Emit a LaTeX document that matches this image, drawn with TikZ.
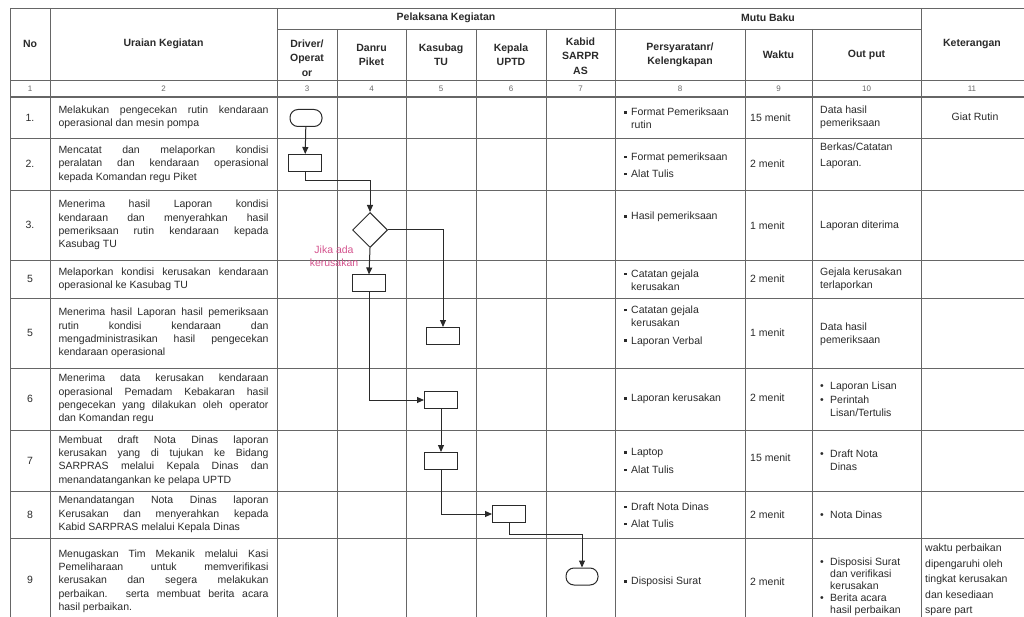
\documentclass[tikz,border=0pt]{standalone}
\usepackage{fontspec}
\setmainfont{Liberation Sans}
\usetikzlibrary{shapes.geometric,arrows.meta}

\definecolor{ink}{HTML}{2A2A2A}
\definecolor{rulegray}{HTML}{666666}
\definecolor{notepink}{HTML}{D4548E}

\newcommand{\sqb}{\makebox[7pt][l]{\raisebox{2pt}{\rule{2.6pt}{2.6pt}}}}
\newcommand{\rb}{\makebox[10pt][l]{\textbullet}}
\newcommand{\ind}[1]{\hspace*{#1pt}}

\begin{document}
\begin{tikzpicture}[x=1pt,y=-1pt,>={Triangle[length=7pt,width=6pt]},
  every node/.style={text=ink,inner sep=0pt},
  font=\fontsize{10.5}{13.3}\selectfont]
  \tikzstyle{tabline}=[draw=rulegray,line width=0.7pt]
  \tikzstyle{hdtext}=[font=\bfseries\fontsize{10.5}{14.5}\selectfont,align=center]
  \tikzstyle{colnum}=[font=\fontsize{8}{9}\selectfont,text=black!60]
  \tikzstyle{uraian}=[text width=210pt,align=justify]
  \tikzstyle{cell}=[anchor=west,align=left]
  \tikzstyle{procbox}=[draw=ink,line width=1pt,minimum width=33pt,minimum height=17pt]
  \tikzstyle{termbox}=[procbox,minimum width=32pt,rounded corners=8pt]
  \tikzstyle{decbox}=[diamond,draw=ink,line width=1pt,minimum width=35pt,minimum height=35pt]
  \tikzstyle{flow}=[->,draw=ink,line width=1pt]

  \useasboundingbox (0,0) rectangle (1024,617);

  % table grid
  \draw[tabline] (10,8) -- (1024,8);
  \draw[tabline] (277,29) -- (921,29);
  \draw[tabline] (10,80) -- (1024,80);
  \draw[tabline,line width=1.4pt] (10,97) -- (1024,97);
  \foreach \y in {138,190,260,298,368,430,491,538}
    \draw[tabline] (10,\y) -- (1024,\y);
  \foreach \x in {10,50,277,615,921}
    \draw[tabline] (\x,8) -- (\x,617);
  \foreach \x in {337,406,476,546,745,812}
    \draw[tabline] (\x,29) -- (\x,617);

  % header
  \node[hdtext] (hNo) at (30,44) {No};
  \node[hdtext] (hUr) at (163.5,44) {Uraian Kegiatan};
  \node[hdtext] (hPel) at (446,18) {Pelaksana Kegiatan};
  \node[hdtext] (hMutu) at (768,18) {Mutu Baku};
  \node[hdtext] (hKet) at (972,44) {Keterangan};
  \node[hdtext] (hDrv) at (307,58) {Driver/\\Operat\\or};
  \node[hdtext] (hDan) at (371.5,55) {Danru\\Piket};
  \node[hdtext] (hKsb) at (441,55) {Kasubag\\TU};
  \node[hdtext] (hKep) at (511,55) {Kepala\\UPTD};
  \node[hdtext] (hKab) at (580.5,56) {Kabid\\SARPR\\AS};
  \node[hdtext] (hPer) at (680,55) {Persyaratanr/\\Kelengkapan};
  \node[hdtext] (hWak) at (778.5,55) {Waktu};
  \node[hdtext] (hOut) at (866.5,55) {Out put};

  \node[colnum] (n1) at (30,88.5) {1};
  \node[colnum] (n2) at (163.5,88.5) {2};
  \node[colnum] (n3) at (307,88.5) {3};
  \node[colnum] (n4) at (371.5,88.5) {4};
  \node[colnum] (n5) at (441,88.5) {5};
  \node[colnum] (n6) at (511,88.5) {6};
  \node[colnum] (n7) at (580.5,88.5) {7};
  \node[colnum] (n8) at (680,88.5) {8};
  \node[colnum] (n9) at (778.5,88.5) {9};
  \node[colnum] (n10) at (866.5,88.5) {10};
  \node[colnum] (n11) at (972,88.5) {11};

  % no
  \node (No1) at (30,117.5) {1.};
  \node (No2) at (30,164) {2.};
  \node (No3) at (30,225) {3.};
  \node (No4) at (30,279) {5};
  \node (No5) at (30,333) {5};
  \node (No6) at (30,399) {6};
  \node (No7) at (30,460.5) {7};
  \node (No8) at (30,514.5) {8};
  \node (No9) at (30,580) {9};

  % uraian kegiatan
  \node[uraian] (U1) at (163.5,117.5) {Melakukan pengecekan rutin kendaraan\linebreak operasional dan mesin pompa};
  \node[uraian] (U2) at (163.5,164) {Mencatat dan melaporkan kondisi\linebreak peralatan dan kendaraan operasional\linebreak kepada Komandan regu Piket};
  \node[uraian] (U3) at (163.5,225) {Menerima hasil Laporan kondisi\linebreak kendaraan dan menyerahkan hasil\linebreak pemeriksaan rutin kendaraan kepada\linebreak Kasubag TU};
  \node[uraian] (U4) at (163.5,279) {Melaporkan kondisi kerusakan kendaraan\linebreak operasional ke Kasubag TU};
  \node[uraian] (U5) at (163.5,333) {Menerima hasil Laporan hasil pemeriksaan\linebreak rutin kondisi kendaraan dan\linebreak mengadministrasikan hasil pengecekan\linebreak kendaraan operasional};
  \node[uraian] (U6) at (163.5,399) {Menerima data kerusakan kendaraan\linebreak operasional Pemadam Kebakaran hasil\linebreak pengecekan yang dilakukan oleh operator\linebreak dan Komandan regu};
  \node[uraian] (U7) at (163.5,460.5) {Membuat draft Nota Dinas laporan\linebreak kerusakan yang di tujukan ke Bidang\linebreak SARPRAS melalui Kepala Dinas dan\linebreak menandatangankan ke pelapa UPTD};
  \node[uraian] (U8) at (163.5,514.5) {Menandatangan Nota Dinas laporan\linebreak Kerusakan dan menyerahkan kepada\linebreak Kabid SARPRAS melalui Kepala Dinas};
  \node[uraian] (U9) at (163.5,581) {Menugaskan Tim Mekanik melalui Kasi\linebreak Pemeliharaan untuk memverifikasi\linebreak kerusakan dan segera melakukan\linebreak perbaikan. serta membuat berita acara\linebreak hasil perbaikan.};

  % flow
  \node[termbox] (T1) at (306,118) {};
  \node[procbox] (B2) at (305,163) {};
  \node[decbox]  (D3) at (370,230) {};
  \node[procbox] (B4) at (369,283.5) {};
  \node[procbox] (B5) at (443,336) {};
  \node[procbox] (B6) at (441,400) {};
  \node[procbox] (B7) at (441,461) {};
  \node[procbox] (B8) at (509,514) {};
  \node[termbox] (T9) at (582,576.5) {};
  \node[font=\fontsize{10.5}{13}\selectfont,text=notepink,align=center] (L3) at (334,256.5) {Jika ada\\kerusakan};

  \draw[flow] (T1) -- (B2);
  \draw[flow] (B2.south) -- ++(0,9) -| (D3.north);
  \draw[flow] (D3.east) -| (B5.north);
  \draw[flow] (D3.south) -- (B4.north);
  \draw[flow] (B4.south) |- (B6.west);
  \draw[flow] (B6.south) -- (B7.north);
  \draw[flow] (B7.south) |- (B8.west);
  \draw[flow] (B8.south) -- ++(0,11) -| (T9.north);

  % persyaratan
  \node[cell] (P1) at (624,118.5) {\sqb Format Pemeriksaan\\\ind{7}rutin};
  \node[cell] (P2) at (624,165) {\sqb Format pemeriksaan\\[4pt]\sqb Alat Tulis};
  \node[cell] (P3) at (624,217) {\sqb Hasil pemeriksaan};
  \node[cell] (P4) at (624,280) {\sqb Catatan gejala\\\ind{7}kerusakan};
  \node[cell] (P5) at (624,326) {\sqb Catatan gejala\\\ind{7}kerusakan\\[4pt]\sqb Laporan Verbal};
  \node[cell] (P6) at (624,399) {\sqb Laporan kerusakan};
  \node[cell] (P7) at (624,461) {\sqb Laptop\\[4pt]\sqb Alat Tulis};
  \node[cell] (P8) at (624,515) {\sqb Draft Nota Dinas\\[4pt]\sqb Alat Tulis};
  \node[cell] (P9) at (624,582) {\sqb Disposisi Surat};

  % waktu
  \node[cell] (W1) at (750,118) {15 menit};
  \node[cell] (W2) at (750,164) {2 menit};
  \node[cell] (W3) at (750,226) {1 menit};
  \node[cell] (W4) at (750,279) {2 menit};
  \node[cell] (W5) at (750,333) {1 menit};
  \node[cell] (W6) at (750,398) {2 menit};
  \node[cell] (W7) at (750,458) {15 menit};
  \node[cell] (W8) at (750,515) {2 menit};
  \node[cell] (W9) at (750,582) {2 menit};

  % out put
  \node[cell] (O1) at (820,117) {Data hasil\\pemeriksaan};
  \node[cell] (O2) at (820,155.5) {Berkas/Catatan\\[3pt]Laporan.};
  \node[cell] (O3) at (820,226) {Laporan diterima};
  \node[cell] (O4) at (820,279) {Gejala kerusakan\\terlaporkan};
  \node[cell] (O5) at (820,334.5) {Data hasil\\pemeriksaan};
  \node[cell] (O6) at (820,399.5) {\rb Laporan Lisan\\\rb Perintah\\\ind{10}Lisan/Tertulis};
  \node[cell] (O7) at (820,460.5) {\rb Draft Nota\\\ind{10}Dinas};
  \node[cell] (O8) at (820,515) {\rb Nota Dinas};
  \node[cell,font=\fontsize{10.5}{12}\selectfont] (O9) at (820,586.5) {\rb Disposisi Surat\\\ind{10}dan verifikasi\\\ind{10}kerusakan\\\rb Berita acara\\\ind{10}hasil perbaikan};

  % keterangan
  \node (K1) at (975,117) {Giat Rutin};
  \node[cell,font=\fontsize{10.5}{15.5}\selectfont] (K9) at (925,580) {waktu perbaikan\\dipengaruhi oleh\\tingkat kerusakan\\dan kesediaan\\spare part};
\end{tikzpicture}
\end{document}
